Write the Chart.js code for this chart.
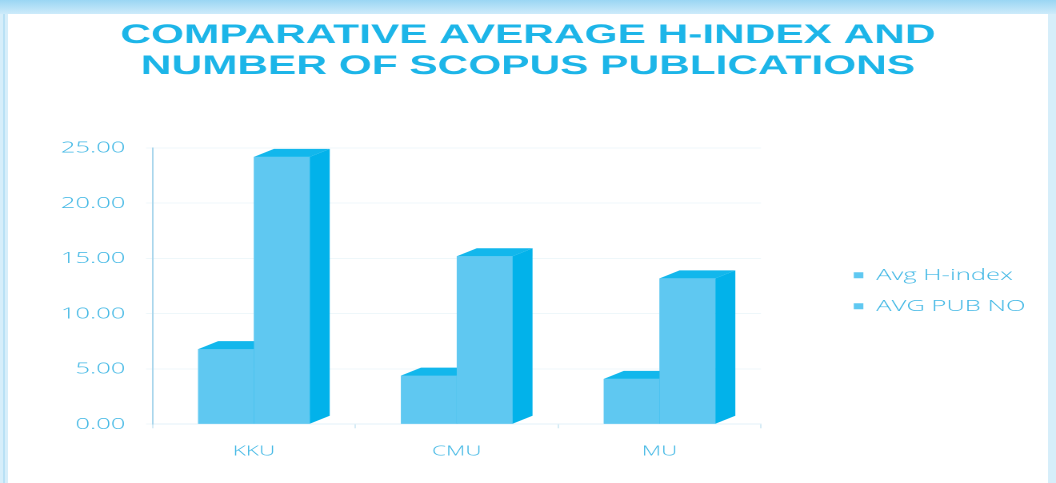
<!DOCTYPE html>
<html lang="en">
<head>
    <meta charset="UTF-8">
    <title>Comparative Average H-index</title>
    <style>
        body { margin: 0; width: 1056px; height: 483px; overflow: hidden; background: #d6eefa; position: relative; }
        .topband { position: absolute; left: 0; top: 0; width: 1056px; height: 14px; background: linear-gradient(#9ad6f3, #cdebfa); }
        .leftband { position: absolute; left: 3px; top: 14px; width: 2px; height: 469px; background: #b9e1f5; }
        #wrap { position: absolute; left: 8px; top: 14px; width: 1040px; height: 469px; background: #fff; overflow: hidden; }
        #chart { transform: scaleX(1.6); transform-origin: 0 0; }
    </style>
</head>
<body>
    <div class="topband"></div>
    <div class="leftband"></div>
    <div id="wrap">
        <canvas id="chart" width="650" height="469" style="width:650px;height:469px"></canvas>
    </div>

    <script src="https://cdn.jsdelivr.net/npm/chart.js"></script>
    <script>
        const categories = ['KKU', 'CMU', 'MU'];
        const avgHIndex = [6.8, 4.4, 4.1];
        const avgPubNo = [24.2, 15.2, 13.2];
        const yTicks = [0, 5, 10, 15, 20, 25];

        const front = '#5fc8f1';
        const topFace = '#12b7ec';
        const sideFace = '#02b2ea';
        const textBlue = '#3db6e4';

        // fake 3d: top and side faces on each bar, drawn category by category
        const bar3d = {
            id: 'bar3d',
            afterDatasetsDraw(chart) {
                const ctx = chart.ctx;
                const dx = 12.5, dy = 8;
                const metas = chart.data.datasets.map((d, i) => chart.getDatasetMeta(i));
                const poly = (pts, color) => {
                    ctx.beginPath();
                    ctx.moveTo(pts[0][0], pts[0][1]);
                    for (let k = 1; k < pts.length; k++) ctx.lineTo(pts[k][0], pts[k][1]);
                    ctx.closePath();
                    ctx.fillStyle = color;
                    ctx.fill();
                };
                ctx.save();
                for (let j = 0; j < categories.length; j++) {
                    metas.forEach(meta => {
                        const p = meta.data[j].getProps(['x', 'y', 'base', 'width'], true);
                        const l = p.x - p.width / 2, r = p.x + p.width / 2;
                        ctx.fillStyle = front;
                        ctx.fillRect(l, p.y, p.width, p.base - p.y);
                        poly([[l, p.y], [l + dx, p.y - dy], [r + dx, p.y - dy], [r, p.y]], topFace);
                        poly([[r, p.y], [r + dx, p.y - dy], [r + dx, p.base - dy], [r, p.base]], sideFace);
                    });
                }
                ctx.restore();
            }
        };

        Chart.defaults.font.family = "'Open Sans', sans-serif";

        new Chart(document.getElementById('chart'), {
            type: 'bar',
            data: {
                labels: categories,
                datasets: [
                    { label: 'Avg H-index', data: avgHIndex, backgroundColor: front },
                    { label: 'AVG PUB NO', data: avgPubNo, backgroundColor: front }
                ]
            },
            options: {
                responsive: false,
                devicePixelRatio: 2,
                animation: false,
                categoryPercentage: 0.55,
                barPercentage: 1,
                layout: { padding: { left: 4, right: 4, bottom: 8 } },
                plugins: {
                    title: {
                        display: true,
                        text: ['COMPARATIVE AVERAGE H-INDEX AND', 'NUMBER OF SCOPUS PUBLICATIONS'],
                        color: '#1cb5e8',
                        font: { family: "'Liberation Sans', Arial, sans-serif", size: 26.5, weight: 'bold', lineHeight: 1.17 },
                        padding: { top: 6, bottom: 66 }
                    },
                    legend: {
                        position: 'right',
                        maxWidth: 150,
                        title: { display: true, text: '', padding: { top: 0, bottom: 78 } },
                        labels: {
                            color: textBlue,
                            boxWidth: 6,
                            boxHeight: 6,
                            padding: 15,
                            font: { size: 16, weight: '300' }
                        }
                    },
                    tooltip: { enabled: false }
                },
                scales: {
                    x: {
                        grid: { drawOnChartArea: false, color: '#d5ebf5', tickLength: 4 },
                        border: { color: '#e3f1f8' },
                        ticks: { color: textBlue, padding: 15, font: { size: 14, weight: '300' } }
                    },
                    y: {
                        min: 0,
                        max: 25,
                        afterBuildTicks: s => { s.ticks = yTicks.map(v => ({ value: v })); },
                        afterFit: s => { s.width = s.width + 16; },
                        grid: { color: 'rgba(200,228,240,0.3)', tickLength: 4 },
                        border: { color: '#a9d6ec' },
                        ticks: {
                            color: textBlue,
                            padding: 13,
                            font: { size: 16, weight: '300' },
                            callback: v => v.toFixed(2)
                        }
                    },
                    gap: {
                        position: 'right',
                        display: true,
                        grid: { display: false },
                        border: { display: false },
                        ticks: { display: false },
                        afterFit: s => { s.width = 43; }
                    }
                }
            },
            plugins: [bar3d]
        });
    </script>
</body>
</html>
